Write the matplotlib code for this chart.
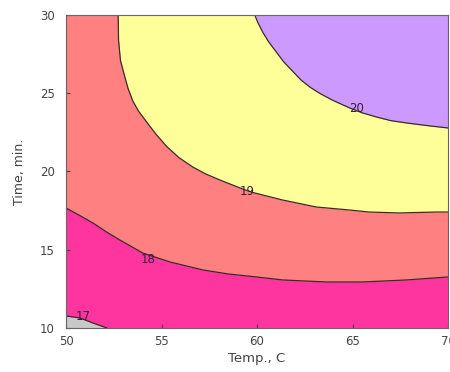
import matplotlib
matplotlib.use('Agg')
import matplotlib.pyplot as plt

# contour lines: temperature (C) and time (min) pairs
temp_17 = [50.0, 50.73, 51.41, 52.14]
time_17 = [10.77, 10.64, 10.32, 10.0]

temp_18 = [50.0, 50.7, 51.41, 52.1, 52.82, 54.02, 55.44, 57.16, 58.5, 59.98, 61.34,
           63.64, 65.53, 67.83, 70.0]
time_18 = [17.67, 17.2, 16.71, 16.15, 15.62, 14.79, 14.22, 13.71, 13.45, 13.26, 13.07,
           12.94, 12.94, 13.07, 13.26]

temp_19 = [52.73, 52.75, 52.85, 53.08, 53.25, 53.50, 53.8, 54.23, 54.7, 55.27, 55.9,
           56.63, 57.3, 58.05, 59.25, 59.77, 61.33, 63.11, 64.83, 65.87, 67.44, 69.37, 70.0]
time_19 = [30.0, 28.4, 27.1, 26.04, 25.3, 24.5, 23.85, 23.15, 22.4, 21.6, 20.9,
           20.29, 19.85, 19.46, 18.88, 18.66, 18.18, 17.73, 17.54, 17.41, 17.35, 17.41, 17.41]

temp_20 = [59.88, 60.05, 60.30, 60.6, 61.03, 61.4, 61.87, 62.3, 62.76, 63.3, 63.96,
           64.85, 65.5, 66.26, 67.0, 67.83, 68.8, 70.0]
time_20 = [30.0, 29.5, 28.9, 28.3, 27.6, 27.0, 26.4, 25.85, 25.40, 24.98, 24.55,
           24.06, 23.75, 23.48, 23.25, 23.10, 22.95, 22.78]

levels = ['17', '18', '19', '20']
label_temp = [50.9, 54.3, 59.5, 65.2]
label_time = [10.75, 14.4, 18.7, 24.0]

plt.rcParams['font.family'] = ['DejaVu Sans']

fig = plt.figure(figsize=(4.5, 3.72), dpi=100)
ax = fig.add_axes([0.1467, 0.1183, 0.8489, 0.8414])

# band between 17 and 18 is the background
ax.set_facecolor('#FF359F')
ax.fill_between(temp_17, 10, time_17, color='#C8C8C8', lw=0)
ax.fill_between(temp_18, time_18, 30, color='#FF8080', lw=0)
ax.fill_between(temp_19, time_19, 30, color='#FFFF99', lw=0)
ax.fill_between(temp_20, time_20, 30, color='#CC99FF', lw=0)

line_col = '#3a2a2a'
for tx, ty in [(temp_17, time_17), (temp_18, time_18), (temp_19, time_19), (temp_20, time_20)]:
    ax.plot(tx, ty, color=line_col, lw=0.9)

for lab, lx, ly in zip(levels, label_temp, label_time):
    ax.text(lx, ly, lab, fontsize=8.5, color='#3a1a3a', ha='center', va='center')

ax.set_xlim(50, 70)
ax.set_ylim(10, 30)
ax.set_xticks([50, 55, 60, 65, 70])
ax.set_yticks([10, 15, 20, 25, 30])
ax.tick_params(direction='in', length=3, labelsize=8.5, labelcolor='#444444', color='#444444')
ax.tick_params(axis='x', pad=5)
ax.tick_params(axis='y', pad=8)
for s in ax.spines.values():
    s.set_color('#666666')
    s.set_linewidth(0.8)

ax.set_xlabel('Temp., C', fontsize=9.5, color='#444444', labelpad=3)
ax.set_ylabel('Time, min.', fontsize=9, color='#444444', labelpad=10)

plt.savefig('out.png', dpi=100)
